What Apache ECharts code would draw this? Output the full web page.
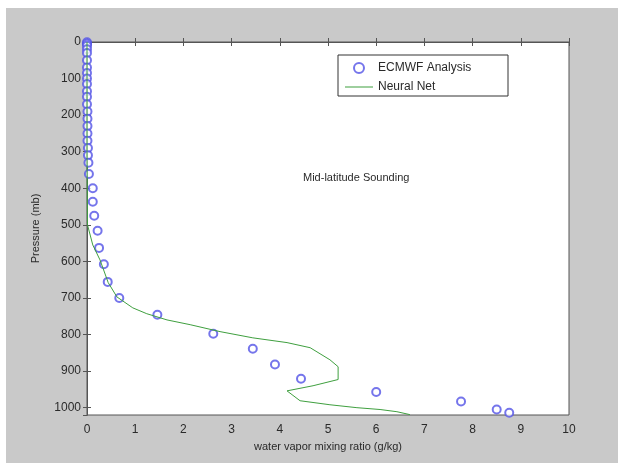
<!DOCTYPE html>
<html>
<head>
<meta charset="utf-8">
<script src="https://cdn.jsdelivr.net/npm/echarts@6/dist/echarts.min.js"></script>
<style>
  html, body { margin: 0; padding: 0; background: #ffffff; }
  #chart { width: 618px; height: 463px; }
</style>
</head>
<body>
<div id="chart"></div>
<script>
// ECMWF analysis profile: mixing ratio (g/kg) and pressure (mb)
var ecmwfRatio = [0.0, 0.0, 0.0, 0.0, 0.0, 0.0, 0.0, 0.0, 0.0, 0.0, 0.0, 0.0, 0.0, 0.01, 0.01, 0.01, 0.01, 0.01, 0.02, 0.02, 0.03,
  0.04, 0.12, 0.12, 0.15, 0.22, 0.25, 0.35, 0.43, 0.67, 1.46, 2.62, 3.44, 3.9, 4.44, 6.0, 7.76, 8.5, 8.76];
var ecmwfPressure = [1, 5, 10, 20, 30, 50, 70, 85, 100, 115, 135, 150, 170, 190, 210, 230, 250, 270, 290, 310, 330,
  361, 400, 437, 475, 516, 563, 608, 656, 700, 746, 798, 839, 882, 921, 957, 983, 1005, 1014];

// neural net retrieval
var netRatio = [0.0, 0.0, 0.01, 0.12, 0.27, 0.44, 0.62, 0.95, 1.24, 1.66, 2.14, 2.76, 3.44, 4.15, 4.63, 5.04, 5.21, 5.21,
  4.69, 4.15, 4.42, 5.04, 5.6, 6.08, 6.43, 6.7];
var netPressure = [0, 300, 500, 555, 596, 658, 697, 727, 743, 760, 773, 792, 809, 822, 836, 869, 888, 923,
  940, 954, 981, 992, 1000, 1005, 1011, 1019];

var xTicks = [0, 10, 1];      // min, max, step
var yTicks = [0, 1020, 100];  // min, max, step

var chart = echarts.init(document.getElementById('chart'));

var ecmwfData = [];
for (var i = 0; i < ecmwfRatio.length; i++) ecmwfData.push([ecmwfRatio[i], ecmwfPressure[i]]);
var netData = [];
for (var i = 0; i < netRatio.length; i++) netData.push([netRatio[i], netPressure[i]]);

var font = 'Liberation Sans, Arial, sans-serif';
var ink = '#2a2a2a';
var axisCol = '#555';
// thin horizontal bar, kept 10px tall by two tiny dots so it is not stretched
var lineIcon = 'path://M0,0L0.01,0L0.01,0.01Z M0,4.5L28,4.5L28,5.6L0,5.6Z M0,10L0.01,10L0.01,9.99Z';

var option = {
  animation: false,
  backgroundColor: '#ffffff',
  graphic: [
    { type: 'rect', z: -10, shape: { x: 6, y: 8, width: 612, height: 455 }, style: { fill: '#c9c9c9' } },
    { type: 'rect', z: 10, shape: { x: 338, y: 55, width: 170, height: 41 },
      style: { fill: 'none', stroke: '#333', lineWidth: 1 } },
    { type: 'text', z: 10, left: 303, top: 172,
      style: { text: 'Mid-latitude Sounding', font: '11px ' + font, fill: ink } }
  ],
  legend: {
    orient: 'vertical', left: 345, top: 62, padding: 0,
    itemWidth: 28, itemHeight: 10, itemGap: 7,
    textStyle: { fontFamily: font, fontSize: 12, color: ink },
    data: [{ name: 'ECMWF Analysis' }, { name: 'Neural Net', icon: lineIcon }]
  },
  grid: { left: 87, right: 49, top: 42, bottom: 48, show: true, backgroundColor: '#ffffff',
          borderColor: axisCol, borderWidth: 1 },
  xAxis: [{
    type: 'value', min: xTicks[0], max: xTicks[1], interval: xTicks[2],
    name: 'water vapor mixing ratio (g/kg)', nameLocation: 'middle', nameGap: 26,
    nameTextStyle: { fontFamily: font, fontSize: 11, color: ink },
    axisLine: { lineStyle: { color: axisCol } },
    axisTick: { inside: true, length: 4, lineStyle: { color: axisCol } },
    axisLabel: { fontFamily: font, fontSize: 12, color: ink, margin: 9 },
    splitLine: { show: false }
  }, {
    type: 'value', position: 'top', min: xTicks[0], max: xTicks[1], interval: xTicks[2],
    axisLine: { lineStyle: { color: axisCol } },
    axisTick: { inside: true, length: 4, lineStyle: { color: axisCol } },
    axisLabel: { show: false }, splitLine: { show: false }
  }],
  yAxis: [{
    type: 'value', inverse: true, min: yTicks[0], max: yTicks[1], interval: yTicks[2],
    name: 'Pressure (mb)', nameLocation: 'middle', nameGap: 46, nameRotate: 90,
    nameTextStyle: { fontFamily: font, fontSize: 11, color: ink },
    axisLine: { lineStyle: { color: axisCol } },
    axisTick: { inside: true, length: 4, lineStyle: { color: axisCol } },
    axisLabel: { fontFamily: font, fontSize: 12, color: ink, margin: 6, showMaxLabel: false,
                 formatter: function (v) { return String(v); } },
    splitLine: { show: false }
  }, {
    type: 'value', position: 'right', inverse: true, min: yTicks[0], max: yTicks[1], interval: yTicks[2],
    axisLine: { lineStyle: { color: axisCol } },
    axisTick: { inside: true, length: 4, lineStyle: { color: axisCol } },
    axisLabel: { show: false }, splitLine: { show: false }
  }],
  series: [{
    name: 'ECMWF Analysis', type: 'scatter', data: ecmwfData,
    symbol: 'emptyCircle', symbolSize: 8,
    itemStyle: { color: '#5252e6', borderWidth: 1 }
  }, {
    name: 'Neural Net', type: 'line', data: netData,
    symbol: 'none', smooth: false,
    lineStyle: { color: '#3f9f3f', width: 1 },
    itemStyle: { color: '#3f9f3f' }
  }]
};
chart.setOption(option);
</script>
</body>
</html>
